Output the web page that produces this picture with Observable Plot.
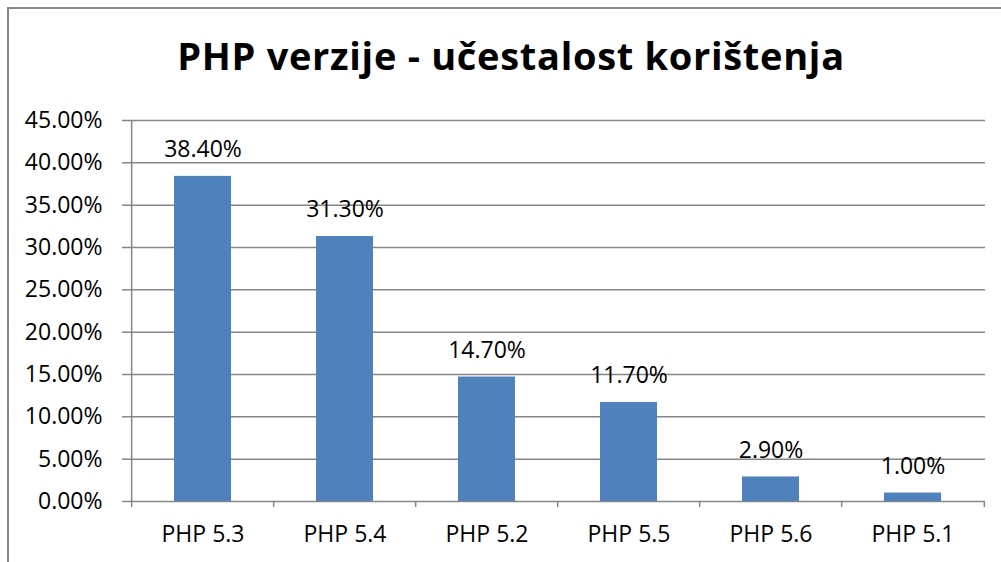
<!DOCTYPE html>
<html>
<head>
<meta charset="utf-8">
<script src="https://cdn.jsdelivr.net/npm/d3@7"></script>
<script src="https://cdn.jsdelivr.net/npm/@observablehq/plot@0.6"></script>
<style>
  html, body { margin: 0; padding: 0; background: #fff; }
  #wrap { position: relative; width: 1001px; height: 562px; overflow: hidden; font-family: "Open Sans", sans-serif; }
  #frame { position: absolute; left: 7px; top: 7px; width: 1100px; height: 700px; border-top: 2px solid #868686; border-left: 2px solid #868686; box-sizing: border-box; }
  #title { position: absolute; left: 0; top: 36px; width: 1001px; box-sizing: border-box; padding-left: 21px; text-align: center; font-weight: bold; font-size: 38px; letter-spacing: 0.7px; line-height: 38px; color: #000; white-space: nowrap; }
  #chart { position: absolute; left: 0; top: 90px; }
</style>
</head>
<body>
<div id="wrap">
  <div id="frame"></div>
  <div id="title">PHP verzije - učestalost korištenja</div>
  <div id="chart"></div>
</div>
<script>
const categories = ["PHP 5.3", "PHP 5.4", "PHP 5.2", "PHP 5.5", "PHP 5.6", "PHP 5.1"];
const shares = [0.384, 0.313, 0.147, 0.117, 0.029, 0.010];
const yTicks = [0, 0.05, 0.10, 0.15, 0.20, 0.25, 0.30, 0.35, 0.40, 0.45];

const data = categories.map((c, i) => ({category: c, share: shares[i]}));

const W = 1001, H = 472;
const mL = 129, mR = 16, mT = 30, mB = 61;
const step = (W - mL - mR) / categories.length;
const grey = "#868686";
const fmt = d3.format(".2%");
const FS = 23;

const chart = Plot.plot({
  width: W,
  height: H,
  marginLeft: mL,
  marginRight: mR,
  marginTop: mT,
  marginBottom: mB,
  style: {fontFamily: "'Open Sans', sans-serif", fontSize: FS + "px", color: "#000", background: "transparent", overflow: "visible"},
  x: {domain: categories, type: "band", paddingInner: 0.6, paddingOuter: 0.3, axis: null, label: null},
  y: {domain: [0, 0.45], axis: null, label: null},
  marks: [
    Plot.gridY({ticks: yTicks, stroke: grey, strokeOpacity: 1, strokeWidth: 1.5}),
    Plot.gridX({ticks: [categories[0]], dx: -step / 2, stroke: grey, strokeOpacity: 1, strokeWidth: 1.5}),
    Plot.axisY({ticks: yTicks, tickFormat: fmt, tickSize: 7, tickPadding: 20, stroke: grey, strokeWidth: 1.5, fill: "#000", fontSize: FS, label: null}),
    Plot.axisX({tickSize: 6, dx: -step / 2, text: null, stroke: grey, strokeWidth: 1.5, label: null}),
    Plot.axisX({ticks: [categories[categories.length - 1]], tickSize: 6, dx: step / 2, text: null, stroke: grey, strokeWidth: 1.5, label: null}),
    Plot.axisX({tickSize: 0, tickPadding: 24, fill: "#000", fontSize: FS, label: null}),
    Plot.barY(data, {x: "category", y: "share", fill: "#4F81BD"}),
    Plot.text(data, {x: "category", y: "share", text: d => fmt(d.share), dy: -19, lineAnchor: "bottom", fill: "#000", fontSize: FS})
  ]
});
document.getElementById("chart").appendChild(chart);
</script>
</body>
</html>
